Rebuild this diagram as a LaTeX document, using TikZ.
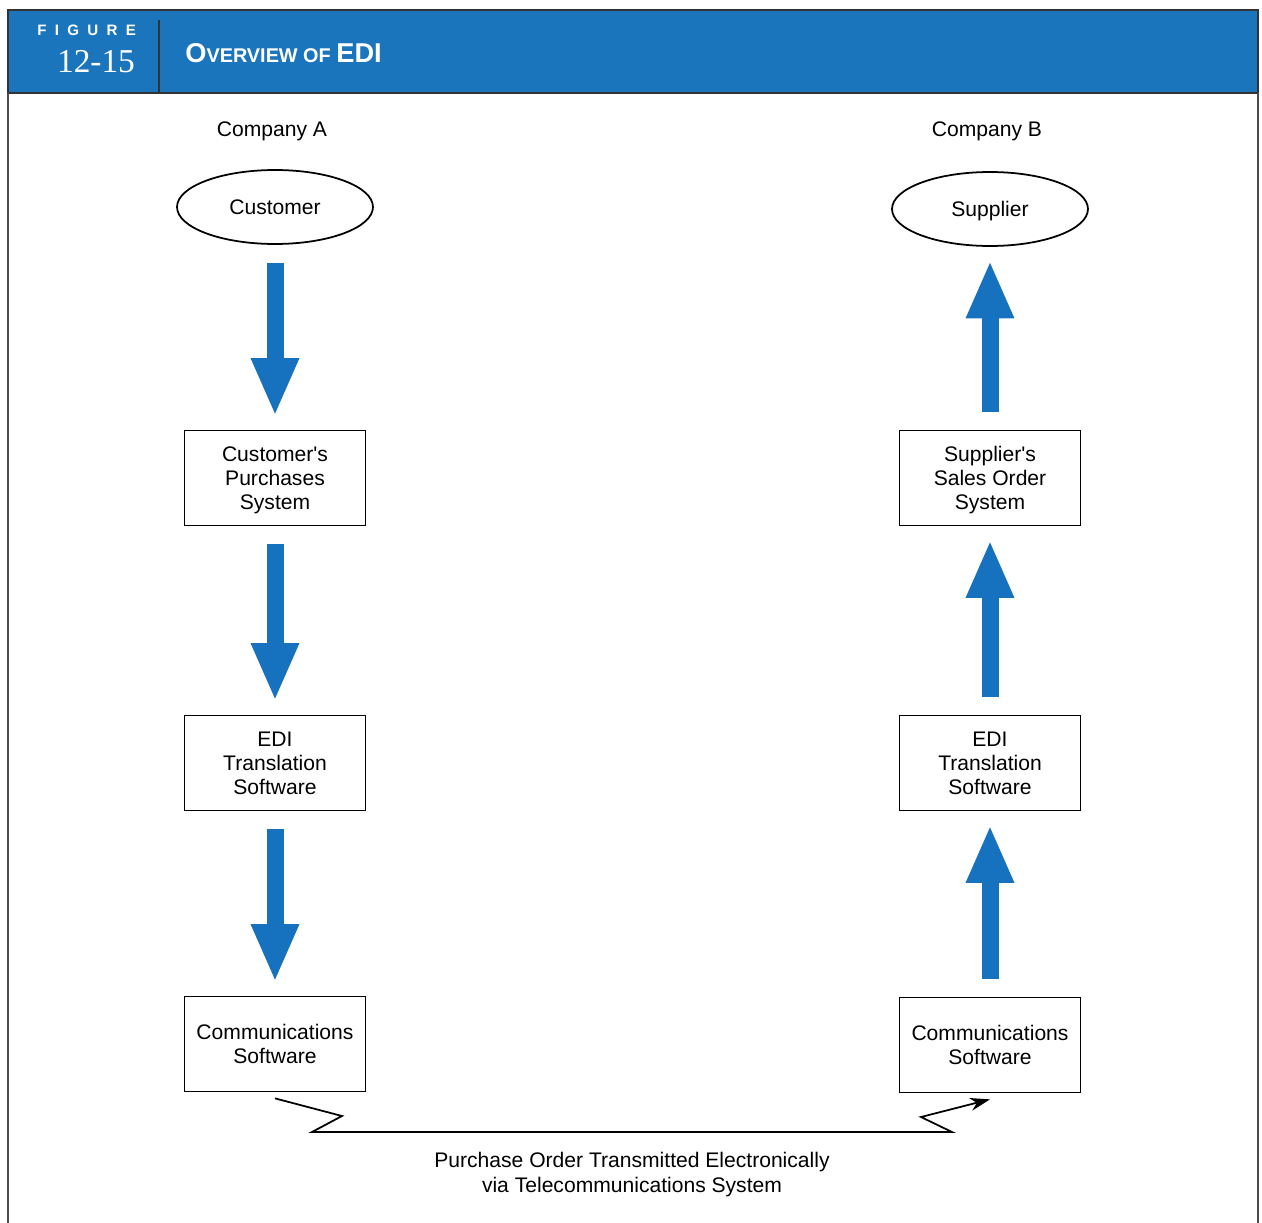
\documentclass[tikz,border=0pt]{standalone}
\usepackage{fontspec}
\setmainfont{Liberation Sans}
\newfontfamily\numfig{Liberation Serif}
\newfontfamily\letrafig[LetterSpace=55]{Liberation Sans}
\usetikzlibrary{arrows.meta,shapes.geometric}
\definecolor{azulcab}{RGB}{27,117,188}
\definecolor{azulflecha}{RGB}{22,113,190}
\begin{document}
\begin{tikzpicture}[x=0.02cm, y=-0.02cm, >={Stealth[length=0.4cm,width=0.26cm]},
    caja/.style={draw, line width=1pt, minimum width=3.62cm, minimum height=1.9cm,
      inner sep=0pt, align=center, text depth=0pt, font=\fontsize{12}{13.6}\selectfont},
    ovalo/.style={draw, ellipse, line width=1pt, minimum width=3.92cm, minimum height=1.48cm,
      inner sep=0pt, text depth=0pt, font=\fontsize{12}{13.6}\selectfont},
    etiq/.style={align=center, inner sep=0pt, text depth=0pt, font=\fontsize{12}{14.2}\selectfont},
    flujo/.style={line width=0.34cm, azulflecha, -{Triangle[width=0.88cm,length=1.16cm]},
      shorten <=0.36cm, shorten >=0.27cm}]
      \def\xa{275}
      \def\xb{990}
      \useasboundingbox (0,0) rectangle (1262,1223);

      % Cabecera
      \fill[azulcab] (8,10) rectangle (1258,93);
      \draw[line width=0.9pt, black!80] (8,10) rectangle (1258,93);
      \draw[line width=1.2pt, black!80] (159,20) -- (159,93);
      \node[anchor=west, inner sep=0pt, text=white] (fig) at (37,30)
        {\letrafig\bfseries\fontsize{8.6}{9}\selectfont FIGURE};
      \node[inner sep=0pt, text=white] (num) at (96,62)
        {\numfig\fontsize{19}{20}\selectfont 12-15};
      \node[anchor=west, inner sep=0pt, text=white] (titulo) at (185,53)
        {\bfseries\fontsize{15.5}{16}\selectfont O\fontsize{11.3}{12}\selectfont VERVIEW OF
         \fontsize{15.5}{16}\selectfont EDI};

      % Marco
      \draw[line width=0.6pt, black!70] (8,93) -- (8,1223);
      \draw[line width=0.6pt, black!70] (1258,93) -- (1258,1223);

      % Empresas
      \node[etiq] (empA) at (272,129) {Company A};
      \node[etiq] (empB) at (987,129) {Company B};

      \node[ovalo] (cli) at (\xa,207) {Customer};
      \node[caja] (sisA) at (\xa,478) {Customer\textquotesingle s\\Purchases\\System};
      \node[caja] (trA) at (\xa,763) {EDI\\Translation\\Software};
      \node[caja] (comA) at (\xa,1044) {Communications\\Software};

      \node[ovalo] (prov) at (\xb,209) {Supplier};
      \node[caja] (sisB) at (\xb,478) {Supplier\textquotesingle s\\Sales Order\\System};
      \node[caja] (trB) at (\xb,763) {EDI\\Translation\\Software};
      \node[caja] (comB) at (\xb,1045) {Communications\\Software};

      % Flechas
      \foreach \a/\b in {cli/sisA, sisA/trA, trA/comA, comB/trB, trB/sisB, sisB/prov} {
        \draw[flujo] (\a) -- (\b);
      }

      % Enlace de telecomunicaciones
      \draw[line width=1pt, ->] ([yshift=-0.12cm]comA.south) -- (342,1116) -- (312,1132)
        -- (952,1132) -- (921,1117) -- ([yshift=-0.12cm]comB.south);
      \node[etiq] (enlace) at (632,1172)
        {Purchase Order Transmitted Electronically\\via Telecommunications System};
    \end{tikzpicture}
\end{document}
